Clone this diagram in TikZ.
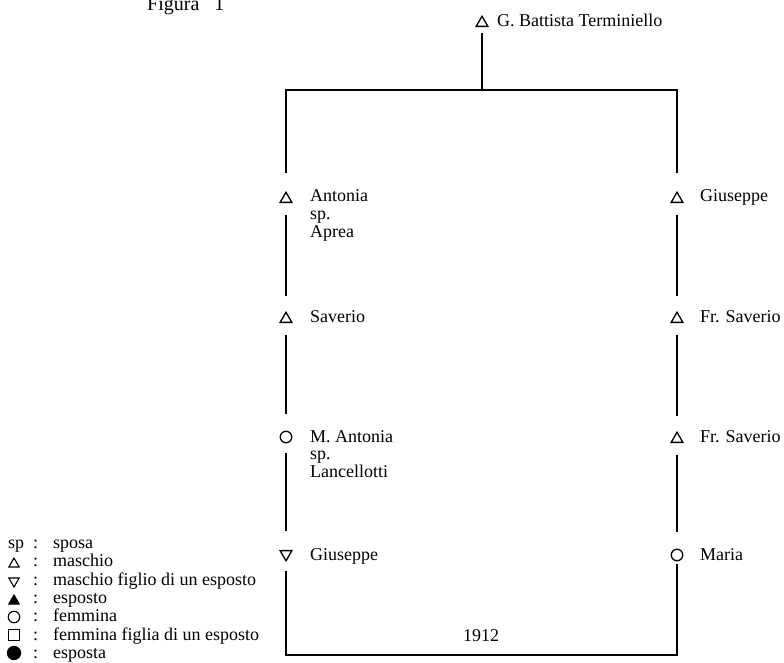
\documentclass[tikz,border=0pt]{standalone}
\usepackage{fontspec}
\setmainfont{Liberation Serif}
\usetikzlibrary{shapes.geometric}
\begin{document}
\begin{tikzpicture}[x=1pt,y=-1pt,
  lbl/.style={anchor=base west, inner sep=0pt, font=\fontsize{18}{19}\selectfont},
  sym/.style={draw, line width=1.3pt, inner sep=0pt},
  male/.style={sym, regular polygon, regular polygon sides=3, minimum size=13.5pt},
  mchild/.style={male, shape border rotate=180},
  female/.style={sym, circle, minimum size=11.5pt},
  emale/.style={male, fill=black},
  efemale/.style={sym, circle, fill=black, minimum size=13pt},
  fchild/.style={sym, rectangle, minimum size=10.5pt},
  link/.style={line width=1.7pt, shorten <=16pt, shorten >=23pt},
  wire/.style={line width=1.7pt}]
\useasboundingbox (0,0) rectangle (784,663);

% title
\node[lbl, font=\fontsize{20}{22}\selectfont] (fig) at (147,11) {Figura\hspace{15pt}1};

% root
\node[male] (root) at (482,23) {};
\node[lbl] (rootl) at (497,27) {G. Battista Terminiello};
\coordinate (join) at (482,90);

% left column
\node[male] (ant) at (286,199) {};
\node[lbl] (antl) at (310,202) {Antonia};
\node[lbl] (ants) at (310,219.5) {sp.};
\node[lbl] (anta) at (310,237) {Aprea};

\node[male] (sav) at (286,319) {};
\node[lbl] (savl) at (310,322) {Saverio};

\node[female] (mant) at (286,437) {};
\node[lbl] (mantl) at (310,442) {M. Antonia};
\node[lbl] (mants) at (310,459.5) {sp.};
\node[lbl] (mantla) at (310,477) {Lancellotti};

\node[mchild] (gius) at (286,554) {};
\node[lbl] (giusl) at (310,560) {Giuseppe};

% right column
\node[male] (rgius) at (677,199) {};
\node[lbl] (rgiusl) at (700,202) {Giuseppe};

\node[male] (fsav1) at (677,319) {};
\node[lbl] (fsav1l) at (700,322) {Fr. Saverio};

\node[male] (fsav2) at (677,439) {};
\node[lbl] (fsav2l) at (700,442) {Fr. Saverio};

\node[female] (maria) at (677,555) {};
\node[lbl] (marial) at (700,560) {Maria};

% connectors
\draw[wire, shorten <=10pt] (root.center) -- (join);
\draw[wire, shorten >=26pt] (join) -| (ant.center);
\draw[wire, shorten >=26pt] (join) -| (rgius.center);

\draw[link] (ant.center) -- (sav.center);
\draw[link] (sav.center) -- (mant.center);
\draw[link] (mant.center) -- (gius.center);

\draw[link] (rgius.center) -- (fsav1.center);
\draw[link] (fsav1.center) -- (fsav2.center);
\draw[link] (fsav2.center) -- (maria.center);

\coordinate (bl) at (286,655);
\coordinate (br) at (677,655);
\draw[wire, shorten <=17pt, shorten >=9pt] (gius.center) -- (bl) -- (br) -- (maria.center);
\node[lbl] (year) at (463,641) {1912};

% legend
\node[lbl] (k1) at (8,548) {sp};
\node[male, line width=1.1pt, minimum size=12pt] (k2) at (14,564) {};
\node[mchild, line width=1.1pt, minimum size=12pt] (k3) at (14,581) {};
\node[emale, line width=1.1pt, minimum size=12pt] (k4) at (14,601) {};
\node[female, line width=1.1pt] (k5) at (14,617) {};
\node[fchild, line width=1.1pt] (k6) at (14,635) {};
\node[efemale] (k7) at (14,653) {};
\foreach \yy/\nm in {548/c1,566.5/c2,585/c3,603/c4,621.5/c5,640/c6,658/c7}
  \node[lbl] (\nm) at (33,\yy) {:};
\node[lbl] (t1) at (53,548) {sposa};
\node[lbl] (t2) at (53,566.5) {maschio};
\node[lbl] (t3) at (53,585) {maschio figlio di un esposto};
\node[lbl] (t4) at (53,603) {esposto};
\node[lbl] (t5) at (53,621.5) {femmina};
\node[lbl] (t6) at (53,640) {femmina figlia di un esposto};
\node[lbl] (t7) at (53,658) {esposta};
\end{tikzpicture}
\end{document}
